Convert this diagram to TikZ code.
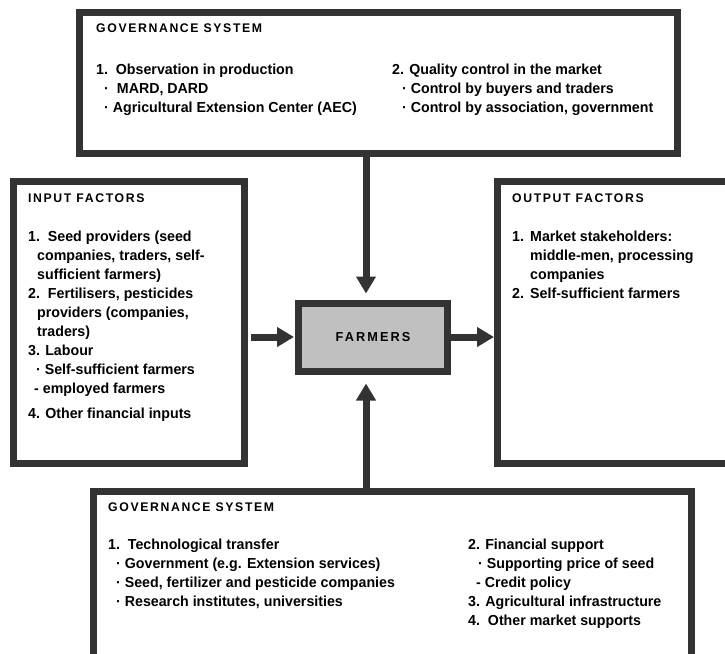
\documentclass[tikz,border=0pt]{standalone}
\usepackage{fontspec}
\setmainfont{Liberation Sans}[FakeStretch=0.98]
\usetikzlibrary{arrows.meta}
\definecolor{bordo}{HTML}{333333}
\definecolor{grigio}{HTML}{C0C0C0}

\begin{document}
\begin{tikzpicture}[x=1pt,y=-1pt,
    font=\fontsize{14.5}{19}\selectfont\bfseries,
    riquadro/.style={draw=bordo,line width=7pt,fill=white,inner sep=0pt},
    centrale/.style={draw=bordo,line width=7pt,fill=grigio,inner sep=0pt,
                 minimum width=149pt,minimum height=68pt,
                 font=\fontsize{13}{15}\selectfont\bfseries\addfontfeature{LetterSpace=16}},
    titolo/.style={anchor=north west,inner sep=0pt,
                 font=\fontsize{12.5}{14}\selectfont\bfseries\addfontfeature{LetterSpace=13}},
    testo/.style={anchor=north west,align=left,inner sep=0pt},
    freccia/.style={draw=bordo,line width=7pt,
                 -{Triangle[length=17pt,width=19pt]}}]

  \useasboundingbox (0,0) rectangle (725,653);
  \clip (0,0) rectangle (725,653);

  % ---- i riquadri ------------------------------------------------------------
  \node[riquadro,minimum width=598pt,minimum height=141pt] (gov1)   at (378.5,83)  {};
  \node[riquadro,minimum width=231pt,minimum height=282pt] (input)  at (129,322.5) {};
  \node[riquadro,minimum width=239pt,minimum height=282pt] (output) at (617,322.5) {};
  \node[riquadro,minimum width=598pt,minimum height=170pt] (gov2)   at (392.5,576.5) {};
  \node[centrale] (farmers) at (373,337) {FARMERS};

  % ---- frecce verso e da FARMERS ---------------------------------------------
  \draw[freccia,shorten >=6pt] ([xshift=-7pt]farmers.north |- gov1.south)
        -- ([xshift=-7pt]farmers.north);
  \draw[freccia,shorten >=9pt] ([xshift=-7pt]farmers.south |- gov2.north)
        -- ([xshift=-7pt]farmers.south);
  \draw[freccia,shorten <=3pt,shorten >=1pt] (input.east |- farmers.west) -- (farmers.west);
  \draw[freccia] (farmers.east) -- (output.west |- farmers.east);

  % ---- testo: sistema di governo in alto ---------------------------------------
  \node[titolo] (gov1t) at (96,24) {GOVERNANCE SYSTEM};
  \node[testo] (gov1a) at (96,64) {1.\ \ Observation in production\\
        \hspace*{8pt}·\hspace*{8pt}MARD, DARD\\
        \hspace*{8pt}· Agricultural Extension Center (AEC)};
  \node[testo] (gov1b) at (392,64) {2. Quality control in the market\\
        \hspace*{10pt}· Control by buyers and traders\\
        \hspace*{10pt}· Control by association, government};

  % ---- testo: fattori in ingresso ----------------------------------------------
  \node[titolo] (inputt) at (28,194) {INPUT FACTORS};
  \node[testo] (inputa) at (28,231) {1.\ \ Seed providers (seed\\
        \hspace*{9pt}companies, traders, self-\\
        \hspace*{9pt}sufficient farmers)\\
        2.\ \ Fertilisers, pesticides\\
        \hspace*{9pt}providers (companies,\\
        \hspace*{9pt}traders)\\
        3. Labour\\
        \hspace*{8pt}· Self-sufficient farmers\\
        \hspace*{6pt}- employed farmers\\[6pt]
        4. Other financial inputs};

  % ---- testo: fattori in uscita ------------------------------------------------
  \node[titolo] (outputt) at (512,194) {OUTPUT FACTORS};
  \node[testo] (outputa) at (512,231) {\makebox[18pt][l]{1.}Market stakeholders:\\
        \hspace*{18pt}middle-men, processing\\
        \hspace*{18pt}companies\\
        \makebox[18pt][l]{2.}Self-sufficient farmers};

  % ---- testo: sistema di governo in basso --------------------------------------
  \node[titolo] (gov2t) at (108,503) {GOVERNANCE SYSTEM};
  \node[testo] (gov2a) at (108,539) {1.\ \ Technological transfer\\
        \hspace*{8pt}· Government (e.g. Extension services)\\
        \hspace*{8pt}· Seed, fertilizer and pesticide companies\\
        \hspace*{8pt}· Research institutes, universities};
  \node[testo] (gov2b) at (468,539) {2. Financial support\\
        \hspace*{10pt}· Supporting price of seed\\
        \hspace*{8pt}- Credit policy\\
        3. Agricultural infrastructure\\
        4.\ \ Other market supports};

\end{tikzpicture}
\end{document}
